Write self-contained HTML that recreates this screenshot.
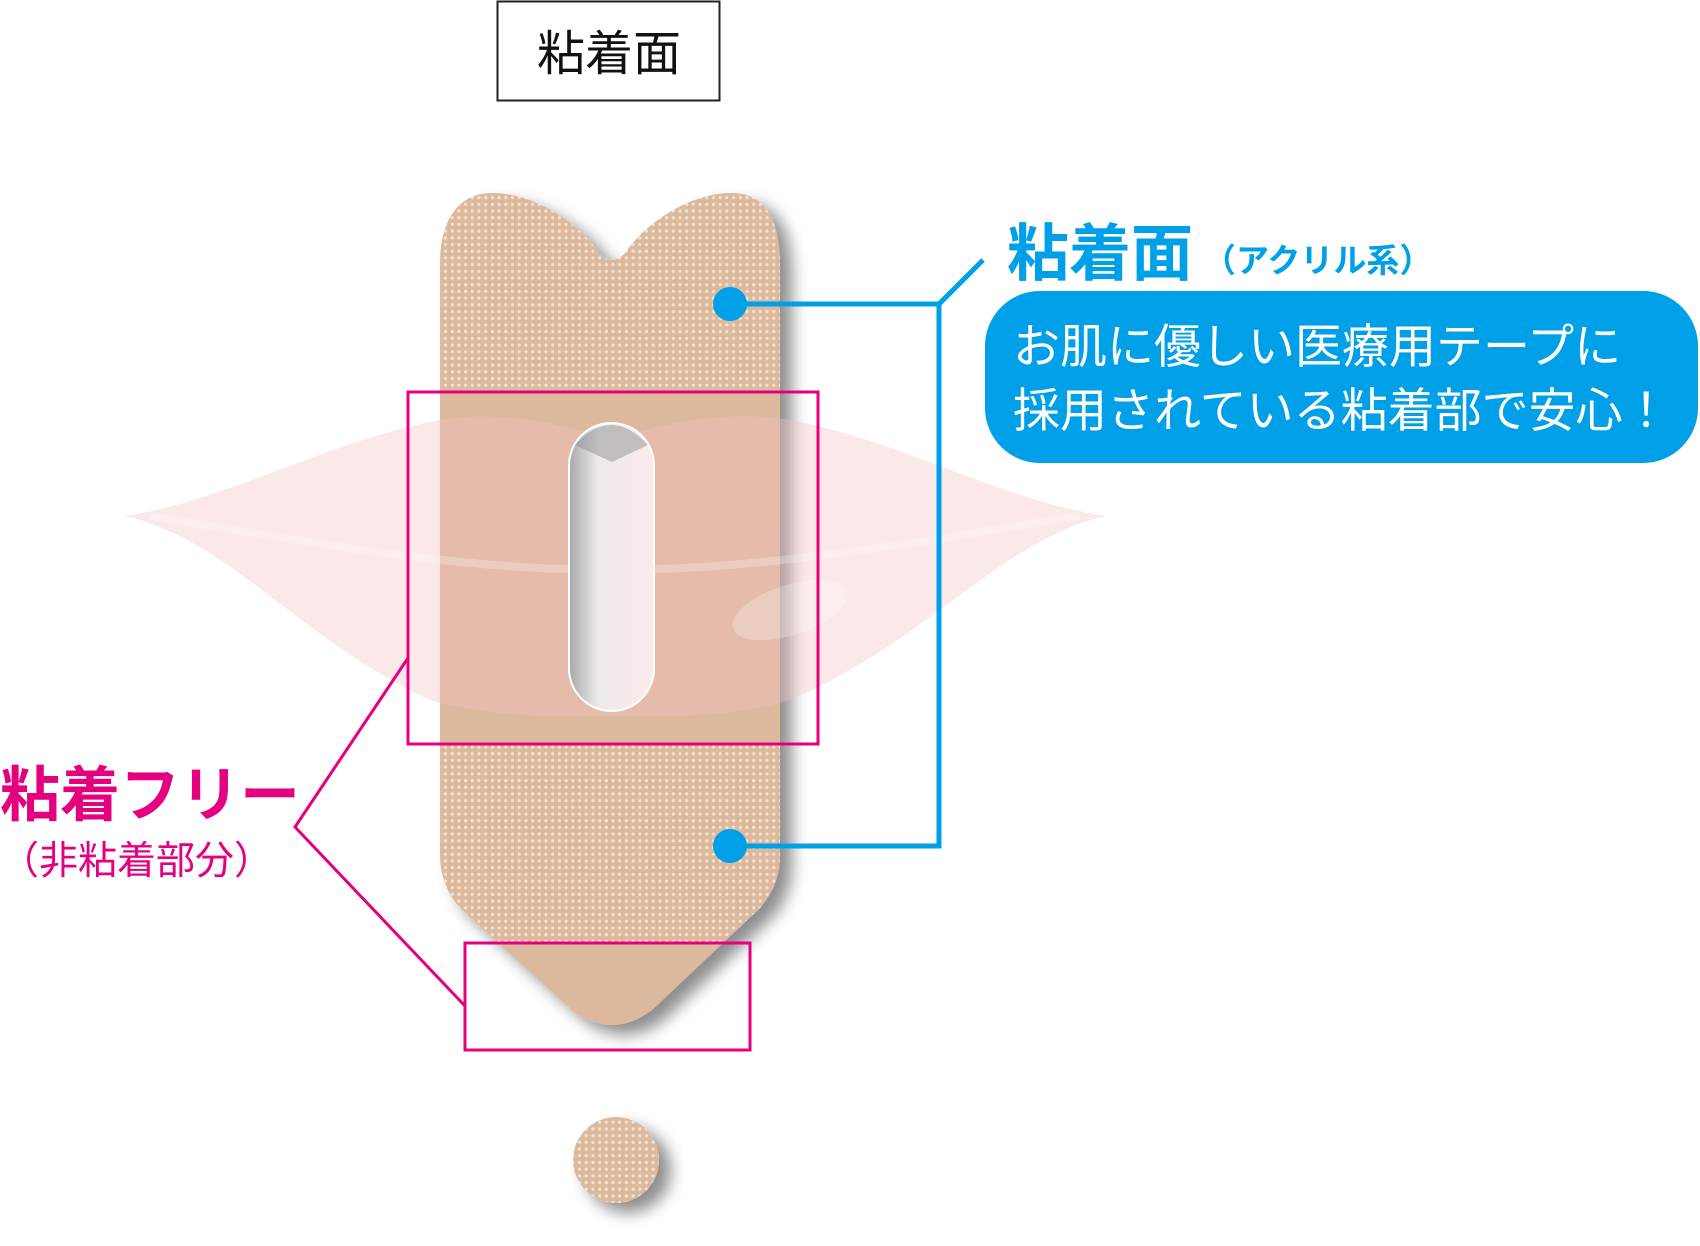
<!DOCTYPE html>
<html><head><meta charset="utf-8"><style>
html,body{margin:0;padding:0;background:#fff;}
svg{display:block;}
text{font-family:"Liberation Sans","Noto Sans CJK JP",sans-serif;}
</style></head><body>
<svg width="1700" height="1246" viewBox="0 0 1700 1246" xmlns="http://www.w3.org/2000/svg">
<defs>
<pattern id="dots" width="6.7" height="6.7" patternUnits="userSpaceOnUse">
<rect width="6.7" height="6.7" fill="#dcb99d"/>
<circle cx="3.3" cy="3.3" r="1.6" fill="#f4e3d2"/>
</pattern>
<filter id="sh" x="-20%" y="-20%" width="150%" height="150%">
<feGaussianBlur in="SourceAlpha" stdDeviation="8"/>
<feOffset dx="12" dy="10"/>
<feComponentTransfer><feFuncA type="linear" slope="0.45"/></feComponentTransfer>
<feMerge><feMergeNode/><feMergeNode in="SourceGraphic"/></feMerge>
</filter>
<linearGradient id="hole" x1="0" y1="0" x2="1" y2="0">
<stop offset="0" stop-color="#a9a9a9"/><stop offset="0.35" stop-color="#eeeaea"/><stop offset="1" stop-color="#fbeaea"/>
</linearGradient>
<clipPath id="bc"><path id="bp" d="M440,265 C440,215 462,193 492,193 C540,193 585,230 598,252 Q612,268 626,252 C640,230 684,193 732,193 C762,193 780,215 780,265 L780,855 Q780,885 760,908 L652,1010 Q612,1040 572,1010 L460,908 Q440,885 440,855 Z"/></clipPath>
</defs>

<rect x="497.5" y="1.5" width="222" height="99" fill="#fff" stroke="#222" stroke-width="2"/>
<text x="609" y="70" font-size="48" text-anchor="middle" fill="#111">粘着面</text>

<g filter="url(#sh)">
<path d="M440,265 C440,215 462,193 492,193 C540,193 585,230 598,252 Q612,268 626,252 C640,230 684,193 732,193 C762,193 780,215 780,265 L780,855 Q780,885 760,908 L652,1010 Q612,1040 572,1010 L460,908 Q440,885 440,855 Z" fill="url(#dots)"/>
</g>
<g clip-path="url(#bc)">
<rect x="440" y="391" width="340" height="353" fill="#dcb99d"/>
<rect x="440" y="942" width="340" height="110" fill="#dcb99d"/>
</g>

<path d="M125,516 C230,500 330,440 440,420 C510,408 580,430 612,440 C650,428 720,408 790,420 C900,440 1000,500 1106,516 C1000,540 930,640 790,700 C720,720 650,716 612,716 C570,716 500,720 430,700 C300,640 230,540 125,516 Z" fill="#f4c3c3" opacity="0.38"/>
<path d="M150,516 C300,540 450,570 612,570 C770,570 930,540 1080,516" fill="none" stroke="#fff" stroke-width="8" opacity="0.25"/>
<ellipse cx="790" cy="610" rx="60" ry="25" transform="rotate(-18 790 610)" fill="#fff" opacity="0.25"/>

<rect x="569" y="423" width="85" height="288" rx="42.5" fill="url(#hole)" stroke="#fff" stroke-width="2"/>
<path d="M575,445 Q611,405 648,445 L612,462 Z" fill="#8f8f8f" opacity="0.5"/>

<rect x="408" y="392" width="410" height="352" fill="none" stroke="#e4007f" stroke-width="3"/>
<rect x="465" y="943" width="285" height="107" fill="none" stroke="#e4007f" stroke-width="3"/>
<polyline points="408,658 295,827 465,1006" fill="none" stroke="#e4007f" stroke-width="3"/>

<text x="0" y="816" font-size="60" font-weight="bold" fill="#e4007f">粘着フリー</text>
<text x="0" y="874" font-size="39" fill="#e4007f">（非粘着部分）</text>

<polyline points="730,304 939,304 939,846 730,846" fill="none" stroke="#00a0e9" stroke-width="5"/>
<line x1="939" y1="304" x2="983" y2="260" stroke="#00a0e9" stroke-width="5"/>
<circle cx="730" cy="304" r="17" fill="#00a0e9"/>
<circle cx="730" cy="846" r="17" fill="#00a0e9"/>

<text x="1007" y="275" font-size="62" font-weight="bold" fill="#00a0e9">粘着面</text>
<text x="1203" y="272" font-size="33" font-weight="bold" fill="#00a0e9">（アクリル系）</text>

<rect x="985" y="291" width="713" height="172" rx="55" fill="#00a0e9"/>
<text x="1013" y="363" font-size="47" fill="#fff">お肌に優しい医療用テープに</text>
<text x="1013" y="427" font-size="47" fill="#fff">採用されている粘着部で安心！</text>

<g filter="url(#sh)">
<circle cx="616" cy="1160" r="43" fill="url(#dots)"/>
</g>
</svg>
</body></html>
